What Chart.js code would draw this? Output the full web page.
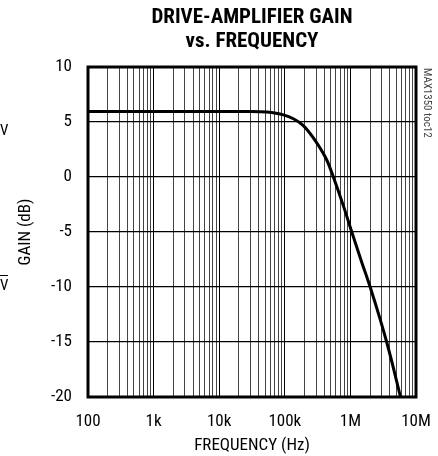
<!DOCTYPE html>
<html>
<head>
<meta charset="utf-8">
<script src="https://cdn.jsdelivr.net/npm/chart.js@4.4.1/dist/chart.umd.min.js"></script>
<style>
  html, body { margin: 0; padding: 0; background: #fff; }
  #wrap { width: 438px; height: 456px; position: relative; }
</style>
</head>
<body>
<div id="wrap"><canvas id="c" width="438" height="456"></canvas></div>
<script>
// ---- data ----
const titleLines = ['DRIVE-AMPLIFIER GAIN', 'vs. FREQUENCY'];
const freqHz = [100, 1000, 10000, 30000, 53000, 95000, 135000, 190000, 300000, 440000, 550000, 780000, 1050000, 1480000, 2000000, 2830000, 3570000, 4500000, 5800000];
const gainDb = [5.95, 5.95, 5.95, 5.95, 5.9, 5.65, 5.3, 4.7, 3.2, 1.5, 0.0, -2.6, -5.0, -7.7, -10.0, -12.9, -15.0, -17.3, -20.0];
const xDecades = [100, 1000, 10000, 100000, 1000000, 10000000];
const xDecadeLabels = ['100', '1k', '10k', '100k', '1M', '10M'];
const yTicks = [-20, -15, -10, -5, 0, 5, 10];
const xTitle = 'FREQUENCY (Hz)';
const yTitle = 'GAIN (dB)';
const sideNote = 'MAX1350 toc12';
const edgeFragments = ['V', 'V'];

const FONT = "'Roboto Condensed', 'DejaVu Sans Condensed', sans-serif";

const xTickValues = [];
for (let d = 0; d < xDecades.length; d++) {
  const base = xDecades[d];
  if (d === xDecades.length - 1) { xTickValues.push(base); break; }
  for (let m = 1; m <= 9; m++) xTickValues.push(base * m);
}
function decadeLabel(v) {
  const i = xDecades.findIndex(d => Math.abs(d - v) / d < 1e-6);
  return i >= 0 ? xDecadeLabels[i] : '';
}
function isDecade(v) { return decadeLabel(v) !== ''; }

const decorPlugin = {
  id: 'decor',
  afterDraw(chart) {
    const ctx = chart.ctx;
    const a = chart.chartArea;
    ctx.save();
    // title
    ctx.fillStyle = '#000';
    ctx.textAlign = 'center';
    ctx.textBaseline = 'middle';
    ctx.font = "bold 21px " + FONT;
    const cx = (a.left + a.right) / 2;
    ctx.fillText(titleLines[0], cx, 18);
    ctx.fillText(titleLines[1], cx, 42);
    // fragments of neighbouring figure at left edge
    ctx.font = "15px " + FONT;
    ctx.textAlign = 'left';
    ctx.fillText(edgeFragments[0], 0, 131);
    ctx.fillText(edgeFragments[1], 0, 286);
    ctx.fillRect(0, 275, 8, 1);
    // side note
    ctx.translate(a.right + 11, a.top + 1);
    ctx.rotate(Math.PI / 2);
    ctx.font = "11px " + FONT;
    ctx.fillStyle = '#444';
    ctx.textAlign = 'left';
    ctx.textBaseline = 'middle';
    ctx.fillText(sideNote, 0, 0);
    ctx.restore();
    // frame
    ctx.save();
    ctx.strokeStyle = '#000';
    ctx.lineWidth = 3;
    ctx.strokeRect(a.left, a.top, a.right - a.left, a.bottom - a.top);
    ctx.restore();
  }
};

new Chart(document.getElementById('c'), {
  type: 'line',
  data: {
    datasets: [{
      data: freqHz.map((f, i) => ({ x: f, y: gainDb[i] })),
      borderColor: '#000',
      borderWidth: 3,
      pointRadius: 0,
      cubicInterpolationMode: 'monotone',
      fill: false
    }]
  },
  options: {
    responsive: false,
    animation: false,
    devicePixelRatio: 1,
    layout: { padding: { top: 67, right: 22, left: 0, bottom: 0 } },
    plugins: { legend: { display: false }, tooltip: { enabled: false }, title: { display: false } },
    scales: {
      x: {
        type: 'logarithmic',
        min: 100, max: 10000000,
        afterBuildTicks(scale) { scale.ticks = xTickValues.map(v => ({ value: v })); },
        afterFit(scale) { scale.height = 59; scale.paddingLeft = 0; scale.paddingRight = 0; },
        ticks: {
          autoSkip: false, maxRotation: 0, padding: 15,
          color: '#000', font: { family: FONT, size: 17 },
          callback: (v) => decadeLabel(v)
        },
        grid: {
          drawTicks: false,
          color: (c) => (c.tick && isDecade(c.tick.value)) ? '#000' : '#444',
          lineWidth: 1
        },
        border: { display: false },
        title: { display: true, text: xTitle, color: '#000', font: { family: FONT, size: 17 }, padding: { top: 0, bottom: 0 } }
      },
      y: {
        min: -20, max: 10,
        afterBuildTicks(scale) { scale.ticks = yTicks.map(v => ({ value: v })); },
        afterFit(scale) { scale.width = 88; scale.paddingTop = 0; scale.paddingBottom = 0; },
        ticks: { padding: 16, color: '#000', font: { family: FONT, size: 17 } },
        grid: { drawTicks: false, color: '#000', lineWidth: 1.2 },
        border: { display: false },
        title: { display: true, text: yTitle, color: '#000', font: { family: FONT, size: 17 }, padding: { top: 16, bottom: 0 } }
      }
    }
  },
  plugins: [decorPlugin]
});
</script>
</body>
</html>
